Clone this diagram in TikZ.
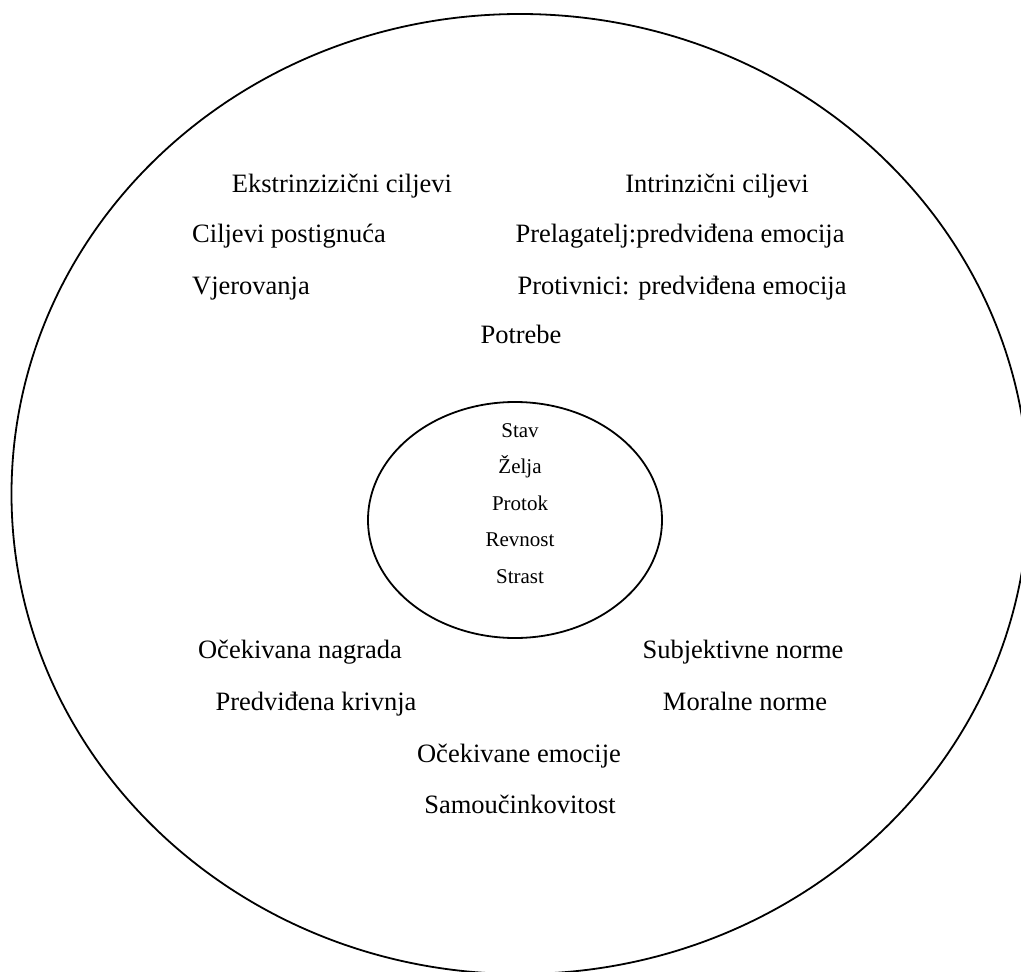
\documentclass[tikz,border=0pt]{standalone}
\usepackage{fontspec}
\setmainfont{Liberation Serif}
\usepackage{tikz}
\tikzstyle{ring}=[draw,line width=1.8pt,black]
\tikzstyle{factor}=[anchor=base,inner sep=0pt,font=\fontsize{26.5}{30}\selectfont]
\tikzstyle{core}=[anchor=base,inner sep=0pt,font=\fontsize{21}{24}\selectfont]

\begin{document}
\begin{tikzpicture}[x=1pt,y=-1pt]
    \useasboundingbox (0,0) rectangle (1021,972);
    % krugovi
    \path[ring] (520,494) ellipse [x radius=508.5, y radius=480];
    \path[ring] (515,520) ellipse [x radius=147, y radius=118];
    % vanjski faktori
    \foreach \pos/\name/\txt in {{(342,192)/ekstr/Ekstrinzizični ciljevi}, {(717,192)/intr/Intrinzični ciljevi},
        {(289,242)/postig/Ciljevi postignuća}, {(680,242)/prelag/Prelagatelj:predviđena emocija},
        {(251,294)/vjer/Vjerovanja}, {(682,294)/protiv/Protivnici: predviđena emocija},
        {(521,343)/potr/Potrebe},
        {(300,658)/nagr/Očekivana nagrada}, {(743,658)/subj/Subjektivne norme},
        {(316,710)/kriv/Predviđena krivnja}, {(745,710)/moral/Moralne norme},
        {(519,762)/emoc/Očekivane emocije}, {(520,813)/samo/Samoučinkovitost}}
        \node[factor] (\name) at \pos {\txt};
    % jezgra
    \foreach \pos/\name/\txt in {{(520,437)/stav/Stav}, {(520,473)/zelja/Želja}, {(520,510)/protok/Protok},
        {(520,546)/revn/Revnost}, {(520,583)/strast/Strast}}
        \node[core] (\name) at \pos {\txt};
\end{tikzpicture}
\end{document}
